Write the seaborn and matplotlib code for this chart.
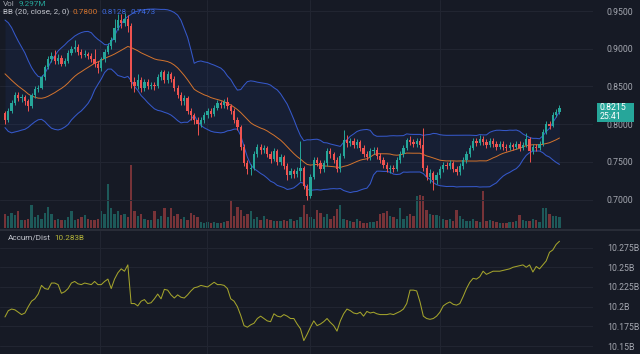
import numpy as np
import pandas as pd
import matplotlib
matplotlib.use("Agg")
import matplotlib.pyplot as plt
import seaborn as sns
from matplotlib.patches import Rectangle
from matplotlib.lines import Line2D

# ---------------- data ----------------
opens = [
    .815, .806, .818, .828, .838, .834, .836, .830, .824, .838,
    .846, .848, .862, .876, .886, .890, .884, .888, .880, .884,
    .894, .900, .902, .896, .892, .893, .890, .886, .880, .874,
    .886, .896, .904, .912, .928, .938, .934, .940, .930, .856,
    .850, .858, .848, .856, .850, .852, .851, .862, .869, .858,
    .866, .860, .848, .838, .830, .834, .818, .812, .806, .800,
    .806, .812, .818, .814, .822, .828, .826, .829, .824, .818,
    .806, .796, .770, .748, .740, .742, .760, .770, .766, .768,
    .760, .754, .764, .750, .756, .745, .732, .738, .734, .738,
    .742, .718, .705, .730, .752, .748, .740, .748, .764, .760,
    .752, .740, .758, .779, .775, .778, .772, .776, .768, .760,
    .756, .764, .766, .758, .752, .746, .740, .742, .741, .752,
    .760, .768, .779, .776, .774, .778, .772, .742, .730, .735,
    .726, .732, .740, .746, .744, .748, .740, .736, .744, .752,
    .760, .768, .778, .775, .780, .776, .772, .778, .774, .770,
    .774, .770, .768, .772, .770, .774, .768, .772, .780, .764,
    .770, .768, .774, .790, .800, .798, .812, .816]
highs = [
    .818, .821, .832, .842, .843, .840, .839, .833, .841, .850,
    .852, .865, .879, .890, .896, .898, .893, .892, .888, .898,
    .904, .912, .906, .899, .898, .896, .894, .899, .884, .889,
    .899, .908, .916, .940, .946, .946, .947, .945, .934, .862,
    .866, .862, .860, .860, .856, .856, .866, .872, .872, .870,
    .869, .864, .852, .842, .838, .837, .822, .815, .810, .810,
    .816, .822, .821, .826, .832, .831, .833, .836, .827, .821,
    .810, .799, .773, .752, .747, .764, .774, .773, .772, .771,
    .764, .768, .767, .760, .759, .748, .742, .741, .743, .778,
    .745, .721, .734, .756, .757, .752, .752, .768, .768, .763,
    .756, .762, .792, .785, .782, .781, .780, .779, .772, .764,
    .768, .770, .769, .762, .756, .750, .746, .746, .756, .764,
    .772, .782, .784, .780, .782, .781, .795, .746, .740, .738,
    .736, .744, .750, .750, .752, .751, .744, .748, .756, .764,
    .772, .782, .782, .785, .784, .780, .782, .781, .778, .778,
    .777, .774, .776, .775, .778, .777, .776, .788, .783, .774,
    .773, .778, .794, .804, .804, .816, .820, .825]
lows = [
    .800, .803, .815, .825, .830, .829, .826, .817, .822, .835,
    .843, .846, .859, .873, .882, .880, .880, .877, .877, .881,
    .891, .896, .892, .888, .889, .886, .882, .876, .868, .871,
    .883, .893, .900, .909, .925, .928, .930, .922, .848, .842,
    .846, .842, .844, .846, .846, .845, .848, .858, .854, .855,
    .856, .844, .834, .826, .826, .814, .806, .800, .786, .796,
    .802, .808, .810, .811, .819, .822, .822, .820, .814, .802,
    .792, .766, .744, .734, .733, .739, .757, .761, .762, .756,
    .749, .751, .746, .746, .740, .726, .728, .729, .730, .724,
    .714, .700, .702, .727, .744, .735, .736, .745, .755, .748,
    .736, .737, .755, .770, .771, .768, .768, .764, .756, .752,
    .752, .760, .754, .748, .742, .736, .735, .736, .738, .749,
    .757, .765, .772, .770, .770, .768, .738, .726, .722, .713,
    .720, .728, .737, .740, .740, .736, .732, .733, .741, .749,
    .757, .765, .771, .772, .772, .768, .769, .770, .766, .767,
    .766, .764, .765, .766, .767, .764, .765, .769, .750, .760,
    .764, .765, .771, .787, .794, .796, .809, .813]
closes = [
    .806, .818, .828, .838, .834, .836, .830, .824, .838, .846,
    .848, .862, .876, .886, .890, .884, .888, .880, .884, .894,
    .900, .902, .896, .892, .893, .890, .886, .880, .874, .886,
    .896, .904, .912, .928, .938, .934, .940, .930, .856, .850,
    .858, .848, .856, .850, .852, .851, .862, .869, .858, .866,
    .860, .848, .838, .830, .834, .818, .812, .806, .800, .806,
    .812, .818, .814, .822, .828, .826, .829, .824, .818, .806,
    .796, .770, .748, .740, .742, .760, .770, .766, .768, .760,
    .754, .764, .750, .756, .745, .732, .738, .734, .738, .742,
    .718, .705, .730, .752, .748, .740, .748, .764, .760, .752,
    .740, .758, .779, .775, .778, .772, .776, .768, .760, .756,
    .764, .766, .758, .752, .746, .740, .742, .741, .752, .760,
    .768, .779, .776, .774, .778, .772, .742, .730, .735, .726,
    .732, .740, .746, .744, .748, .740, .736, .744, .752, .760,
    .768, .778, .775, .780, .776, .772, .778, .774, .770, .774,
    .770, .768, .772, .770, .774, .768, .772, .780, .764, .770,
    .768, .774, .790, .800, .798, .812, .816, .8215]
volumes_m = [
    12, 10, 13, 11, 14, 7, 7, 8, 19, 9,
    11, 8, 13, 18, 12, 7, 8, 7, 7, 9,
    14, 7, 8, 9, 11, 8, 7, 7, 8, 14,
    12, 37, 17, 12, 14, 11, 12, 9, 53, 14,
    10, 12, 8, 7, 7, 14, 8, 10, 17, 9,
    17, 10, 12, 8, 9, 7, 13, 11, 9, 5,
    4, 5, 4, 5, 4, 4, 5, 6, 24, 10,
    18, 15, 10, 12, 14, 8, 9, 7, 10, 8,
    7, 6, 6, 6, 7, 6, 8, 6, 7, 9,
    19, 12, 9, 8, 15, 13, 9, 12, 8, 10,
    16, 19, 8, 7, 6, 5, 8, 6, 4, 4,
    5, 5, 6, 12, 13, 14, 10, 9, 8, 17,
    8, 10, 12, 10, 27, 28, 27, 15, 12, 11,
    11, 10, 8, 7, 8, 6, 15, 10, 8, 6,
    6, 8, 6, 5, 31, 6, 7, 6, 5, 4,
    4, 4, 5, 5, 6, 11, 7, 6, 6, 8,
    7, 5, 17, 17, 12, 10, 10, 9.3]
accum_dist_b = [
    10.187, 10.195, 10.197, 10.196, 10.193, 10.190, 10.192, 10.200, 10.207, 10.210,
    10.216, 10.227, 10.223, 10.222, 10.230, 10.230, 10.228, 10.217, 10.219, 10.223,
    10.230, 10.232, 10.229, 10.228, 10.230, 10.229, 10.228, 10.232, 10.228, 10.228,
    10.232, 10.235, 10.223, 10.235, 10.243, 10.248, 10.245, 10.253, 10.204, 10.204,
    10.201, 10.207, 10.209, 10.204, 10.205, 10.210, 10.216, 10.210, 10.222, 10.221,
    10.215, 10.211, 10.215, 10.212, 10.211, 10.215, 10.220, 10.224, 10.225, 10.227,
    10.226, 10.225, 10.228, 10.231, 10.228, 10.228, 10.227, 10.223, 10.210, 10.207,
    10.200, 10.189, 10.176, 10.174, 10.177, 10.179, 10.185, 10.188, 10.185, 10.182,
    10.181, 10.191, 10.188, 10.187, 10.190, 10.188, 10.185, 10.185, 10.178, 10.172,
    10.157, 10.165, 10.174, 10.182, 10.176, 10.178, 10.181, 10.185, 10.180, 10.176,
    10.169, 10.182, 10.191, 10.197, 10.195, 10.192, 10.191, 10.193, 10.188, 10.194,
    10.192, 10.193, 10.191, 10.190, 10.190, 10.190, 10.191, 10.190, 10.192, 10.194,
    10.197, 10.204, 10.221, 10.221, 10.220, 10.206, 10.188, 10.185, 10.184, 10.185,
    10.188, 10.193, 10.201, 10.204, 10.206, 10.203, 10.202, 10.204, 10.213, 10.223,
    10.231, 10.236, 10.235, 10.238, 10.245, 10.241, 10.243, 10.245, 10.245, 10.245,
    10.246, 10.247, 10.248, 10.250, 10.251, 10.252, 10.253, 10.250, 10.253, 10.244,
    10.251, 10.248, 10.253, 10.258, 10.269, 10.272, 10.279, 10.283]
# closes before the visible window (needed for the 20-period bands)
prior_closes = [0.905, 0.912, 0.918, 0.910, 0.902, 0.896, 0.900, 0.890, 0.880, 0.872,
                0.866, 0.858, 0.850, 0.842, 0.836, 0.830, 0.826, 0.820, 0.815]

price_ticks = [0.70, 0.75, 0.80, 0.85, 0.90, 0.95]
price_tick_labels = ["0.7000", "0.7500", "0.8000", "0.8500", "0.9000", "0.9500"]
ad_ticks = [10.15, 10.175, 10.2, 10.225, 10.25, 10.275]
ad_tick_labels = ["10.15B", "10.175B", "10.2B", "10.225B", "10.25B", "10.275B"]
time_grid = [28.6, 60.8, 91.9, 131.0]

n = len(closes)
assert len(opens) == n and len(highs) == n and len(lows) == n
assert len(volumes_m) == n and len(accum_dist_b) == n

# ---------------- style ----------------
BG = "#161a25"
GRID = "#222632"
TXT = "#a3a6af"
UP = "#26a69a"
DN = "#ef5350"
BAND = "#3558c9"
BASIS = "#d4742e"
ADC = "#a3a32c"

sns.set_theme(style="dark", rc={
    "axes.facecolor": BG, "figure.facecolor": BG,
    "grid.color": GRID, "axes.edgecolor": BG,
})
plt.rcParams["font.family"] = ["Roboto", "DejaVu Sans"]

df = pd.DataFrame({"i": np.arange(n), "open": opens, "high": highs, "low": lows,
                   "close": closes, "vol": volumes_m, "ad": accum_dist_b})
allc = pd.Series(prior_closes + closes)
k = len(prior_closes)
df["mid"] = allc.rolling(20).mean().iloc[k:].to_numpy()
df["sd"] = allc.rolling(20).std(ddof=0).iloc[k:].to_numpy()
df["upper"] = df["mid"] + 2 * df["sd"]
df["lower"] = df["mid"] - 2 * df["sd"]
df["up"] = df["close"] >= df["open"]
colors = np.where(df["up"], UP, DN)

W, H = 640, 354
fig = plt.figure(figsize=(W / 100, H / 100), dpi=100)
plot_w = 593 / W
ax = fig.add_axes([0, (H - 228) / H, plot_w, 228 / H])
axv = ax.twinx()
axa = fig.add_axes([0, 0, plot_w, 123 / H])

XL = (-1.5, 177.1)

# volume
axv.bar(df["i"], df["vol"], width=0.7, color=colors, alpha=0.45, linewidth=0)
axv.set_ylim(0, 192)
axv.set_yticks([])
axv.set_xlim(*XL)
for s in axv.spines.values():
    s.set_visible(False)
ax.set_zorder(axv.get_zorder() + 1)
ax.patch.set_visible(False)
fig.patch.set_facecolor(BG)
axv.set_facecolor(BG)

# bands
ax.fill_between(df["i"], df["lower"], df["upper"], color="#2962ff", alpha=0.07, linewidth=0)
sns.lineplot(data=df, x="i", y="upper", ax=ax, color=BAND, linewidth=0.75)
sns.lineplot(data=df, x="i", y="lower", ax=ax, color=BAND, linewidth=0.75)
sns.lineplot(data=df, x="i", y="mid", ax=ax, color=BASIS, linewidth=0.7)

# candles
ax.vlines(df["i"], df["low"], df["high"], colors=colors, linewidth=0.7, zorder=3)
body_lo = np.minimum(df["open"], df["close"])
body_h = np.maximum(np.abs(df["close"] - df["open"]), 0.0008)
ax.bar(df["i"], body_h, bottom=body_lo, width=0.68, color=colors, linewidth=0, zorder=4)

ax.set_xlim(*XL)
ax.set_ylim(0.6622, 0.9646)
ax.set_yticks(price_ticks)
ax.set_yticklabels(price_tick_labels)
ax.yaxis.tick_right()
ax.set_xticks(time_grid)
ax.set_xticklabels([])
ax.tick_params(axis="x", length=0)
ax.tick_params(axis="y", length=0, pad=10, labelsize=6.3, labelcolor=TXT)
ax.grid(True, color=GRID, linewidth=0.7)
ax.set_xlabel("")
ax.set_ylabel("")
for s in ax.spines.values():
    s.set_visible(False)

# accumulation / distribution
sns.lineplot(data=df, x="i", y="ad", ax=axa, color=ADC, linewidth=0.75)
axa.set_xlim(*XL)
axa.set_ylim(10.140, 10.296)
axa.set_yticks(ad_ticks)
axa.set_yticklabels(ad_tick_labels)
axa.yaxis.tick_right()
axa.set_xticks(time_grid)
axa.set_xticklabels([])
axa.tick_params(axis="x", length=0)
axa.tick_params(axis="y", length=0, pad=10, labelsize=6.3, labelcolor=TXT)
axa.grid(True, color=GRID, linewidth=0.7)
axa.set_xlabel("")
axa.set_ylabel("")
axa.set_facecolor(BG)
for s in axa.spines.values():
    s.set_visible(False)

# pane separator
fig.add_artist(Line2D([0, 1], [1 - 229.5 / H, 1 - 229.5 / H], transform=fig.transFigure,
                      color="#2c303b", linewidth=1.2))

renderer = fig.canvas.get_renderer()


def legend_row(x, y, parts, size=5.9, gap=3.5):
    """Place coloured text pieces one after another (pixel coordinates)."""
    for s, c in parts:
        t = fig.text(x / W, 1 - y / H, s, color=c, fontsize=size, va="center", ha="left")
        bb = t.get_window_extent(renderer=renderer)
        x += bb.width + gap


legend_row(3, 4, [("Vol", TXT), ("9.297M", UP)])
legend_row(3, 12.5, [("BB (20, close, 2, 0)", "#c3c6ce"), ("0.7800", BASIS),
                     ("0.8128", "#3d6ae0"), ("0.7473", "#3d6ae0")])
legend_row(8, 237.5, [("Accum/Dist", "#c3c6ce"), ("10.283B", "#b7b73a")])

# last price label
fig.add_artist(Rectangle((597 / W, 1 - 122 / H), 37 / W, 19 / H, transform=fig.transFigure,
                         facecolor=UP, edgecolor="none", zorder=10))
fig.text(600 / W, 1 - 107.5 / H, "0.8215", color="white", fontsize=6.3, va="center", zorder=11)
fig.text(600 / W, 1 - 116.5 / H, "25:41", color="white", fontsize=6.3, va="center", zorder=11)

fig.savefig("out.png", dpi=100, facecolor=BG)
